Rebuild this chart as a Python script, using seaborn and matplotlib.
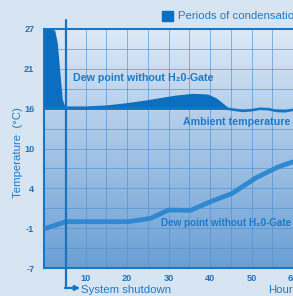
import matplotlib
matplotlib.use('Agg')
import matplotlib.pyplot as plt
from matplotlib.colors import LinearSegmentedColormap
from matplotlib.patches import Rectangle
import numpy as np
import pandas as pd
import seaborn as sns

# 数据
hours_dew = [0, 2.0, 2.6, 3.2, 4.4, 5.0, 10, 15, 19.6, 24.5, 28, 31.7, 35.8, 39.4, 41.5, 43, 44.5]
dew_no_gate = [27, 27, 26.8, 25.0, 17.0, 16.05, 16.05, 16.2, 16.5, 16.9, 17.25, 17.6, 17.85, 17.75, 17.2, 16.5, 15.75]
ambient_base = 15.67

hours_amb = [0, 44, 46, 48, 50, 52, 54, 56, 58, 60, 62, 64]
ambient = [15.67, 15.67, 15.5, 15.35, 15.45, 15.65, 15.6, 15.35, 15.3, 15.5, 15.6, 15.6]

hours_gate = [0, 5.2, 20.4, 25.7, 30, 35.3, 40, 45.3, 51, 56.5, 59.5, 62, 64]
dew_gate = [-1.45, -0.41, -0.41, 0.07, 1.25, 1.2, 2.4, 3.6, 5.8, 7.4, 8.0, 8.4, 8.6]

ytick_pos = [27, 21.33, 15.67, 10, 4.33, -1.33, -7]
ytick_labels = ['27', '21', '16', '10', '4', '-1', '-7']
xtick_pos = [10, 20, 30, 40, 50, 60]
shutdown = 5.2

sns.set_style('white')
plt.rcParams['font.family'] = ['Liberation Sans', 'DejaVu Sans']

BG = '#d7e5f3'
TXT = '#1a7bc9'
TICK = '#2670b5'
DARK = '#0b6ec0'

fig = plt.figure(figsize=(2.93, 2.96), dpi=100, facecolor=BG)
ax = fig.add_axes([44 / 293, 28 / 296, 265.6 / 293, 239 / 296])
ax.set_xlim(0, 64)
ax.set_ylim(-7, 27)

# 渐变背景
cmap = LinearSegmentedColormap.from_list('bg', ['#dde9f6', '#6b9fd4'])
grad = np.linspace(0, 1, 256).reshape(-1, 1)
ax.imshow(grad, extent=(0, 64, -7, 27), aspect='auto', cmap=cmap, origin='upper', zorder=0)

# 网格
for gx in np.arange(5, 65, 5):
    ax.axvline(gx, color='#4f92d4', lw=0.7, alpha=0.65, zorder=1)
for gy in np.linspace(-7, 27, 13):
    ax.axhline(gy, color='#4f92d4', lw=0.7, alpha=0.65, zorder=1)

# 冷凝区域
base = [ambient_base] * len(hours_dew)
ax.fill_between(hours_dew, base, dew_no_gate, color=DARK, lw=0, zorder=3)

df_amb = pd.DataFrame({'h': hours_amb, 'T': ambient})
sns.lineplot(data=df_amb, x='h', y='T', ax=ax, color='#1676c6', lw=1.9, zorder=4)

df_gate = pd.DataFrame({'h': hours_gate, 'T': dew_gate})
sns.lineplot(data=df_gate, x='h', y='T', ax=ax, color='#2f88d2', lw=3.4, zorder=4,
             solid_capstyle='butt')

# 关机线
ax.plot([shutdown, shutdown], [28.3, -9.84], color='#1774c4', lw=1.6, clip_on=False, zorder=5)
ax.annotate('', xy=(8.7, -9.84), xytext=(shutdown - 0.15, -9.84),
            arrowprops=dict(arrowstyle='-|>', color='#1774c4', lw=1.6, mutation_scale=7,
                            shrinkA=0, shrinkB=0),
            annotation_clip=False)

# 文本
ax.text(7.1, 20.0, 'Dew point without H₂0-Gate', color=TXT, fontsize=7.7, fontweight='bold',
        ha='left', va='center', zorder=6)
ax.text(33.6, 13.8, 'Ambient temperature', color=TXT, fontsize=7.7, fontweight='bold',
        ha='left', va='center', zorder=6)
ax.text(28.1, -0.6, 'Dew point without H₂0-Gate', color=TXT, fontsize=7.1, fontweight='bold',
        ha='left', va='center', zorder=6)

fig.text(81 / 293, 1 - 290 / 296, 'System shutdown', color=TXT, fontsize=8.2, ha='left', va='center')
fig.text(268 / 293, 1 - 290 / 296, 'Hours', color=TXT, fontsize=8.2, ha='left', va='center')
fig.text(18 / 293, 1 - 153 / 296, 'Temperature  (°C)', color=TXT, fontsize=8.2, rotation=90,
         ha='center', va='center')

# 图例
fig.patches.append(Rectangle((162 / 293, 1 - 21 / 296), 11 / 293, 10 / 296,
                             transform=fig.transFigure, color=DARK, figure=fig))
fig.text(178 / 293, 1 - 16 / 296, 'Periods of condensation', color=TXT, fontsize=8.2,
         ha='left', va='center')

# 坐标轴
ax.set_yticks(ytick_pos)
ax.set_yticklabels(ytick_labels)
ax.set_yticks(np.linspace(-7, 27, 13), minor=True)
ax.set_xticks(xtick_pos)
ax.set_xticks(np.arange(5, 65, 5), minor=True)
ax.tick_params(axis='both', which='both', direction='out', color='#1878c8', width=1,
               labelcolor=TICK, labelsize=6.6, pad=1)
ax.tick_params(axis='y', which='major', length=6)
ax.tick_params(axis='y', which='minor', length=4)
ax.tick_params(axis='x', which='both', length=3.5, pad=0.5)
for lab in ax.get_xticklabels() + ax.get_yticklabels():
    lab.set_fontweight('bold')
ax.set_xlabel('')
ax.set_ylabel('')

for s in ['left', 'bottom', 'top']:
    ax.spines[s].set_color('#1878c8')
    ax.spines[s].set_linewidth(1.5)
    ax.spines[s].set_visible(True)
ax.spines['right'].set_visible(False)

fig.savefig('out.png', dpi=100, facecolor=BG)
